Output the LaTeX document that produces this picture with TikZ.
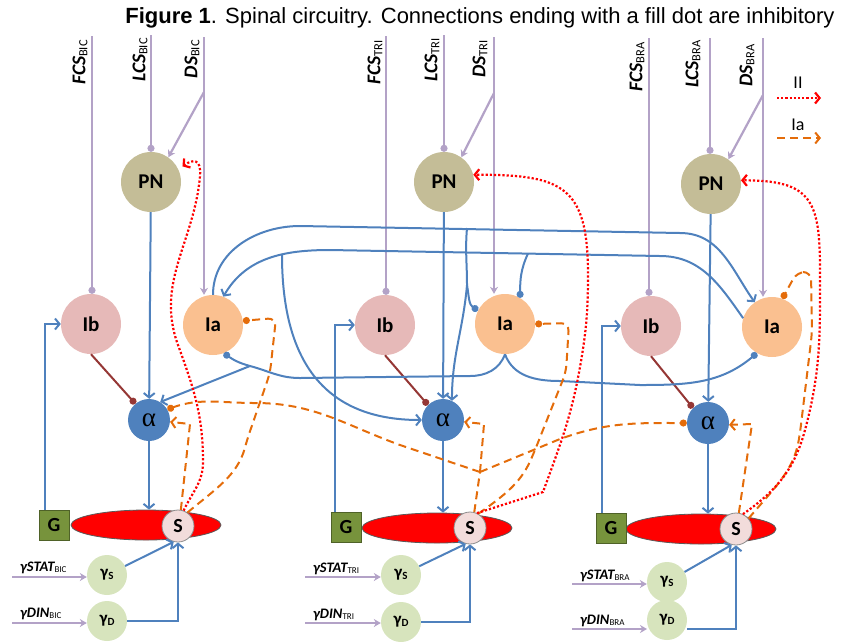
\documentclass[tikz,border=0pt]{standalone}
\usepackage{fontspec}
\setmainfont{Carlito}
\newfontfamily\titlefont{Liberation Sans}
\newfontfamily\greekfont{Liberation Serif}
\usetikzlibrary{arrows.meta,shapes.geometric}
\definecolor{purp}{RGB}{179,162,199}
\definecolor{pncol}{RGB}{196,189,151}
\definecolor{ibcol}{RGB}{230,185,184}
\definecolor{iacol}{RGB}{250,192,144}
\definecolor{mncol}{RGB}{79,129,189}
\definecolor{blu}{RGB}{79,129,189}
\definecolor{ibred}{RGB}{149,55,53}
\definecolor{orng}{RGB}{228,108,10}
\definecolor{gcol}{RGB}{119,147,60}
\definecolor{gdark}{RGB}{79,98,40}
\definecolor{scol}{RGB}{242,220,219}
\definecolor{gamcol}{RGB}{215,228,189}
\newcommand{\fsz}[1]{\fontsize{#1}{#1}\selectfont}
\newcommand{\toplab}[2]{{\bfseries\itshape #1}{\fsz{12.5}\raisebox{-2pt}{#2}}}
\newcommand{\gamlab}[2]{{\bfseries\itshape γ#1}{\fsz{9}\raisebox{-1.5pt}{#2}}}
\newcommand{\gamsub}[1]{γ{\fsz{11}\raisebox{-1.5pt}{#1}}}
\begin{document}
\begin{tikzpicture}[x=1pt,y=-1pt,
  neuron/.style={circle,minimum size=60pt,inner sep=0pt,font=\bfseries\fsz{21}},
  pnode/.style={neuron,fill=pncol},
  ibnode/.style={neuron,fill=ibcol},
  ianode/.style={neuron,fill=iacol},
  mnode/.style={circle,minimum size=42pt,inner sep=0pt,fill=mncol,font=\greekfont\fsz{27}},
  musc/.style={ellipse,minimum width=150pt,minimum height=30pt,fill=red,draw=black!65,line width=0.8pt},
  gbox/.style={rectangle,minimum size=30pt,inner sep=0pt,fill=gcol,draw=gdark,line width=1pt,font=\bfseries\fsz{20}},
  spin/.style={circle,minimum size=32pt,inner sep=0pt,fill=scol,draw=black!45,line width=0.8pt,font=\bfseries\fsz{20}},
  gam/.style={circle,minimum size=40pt,inner sep=0pt,fill=gamcol,font=\bfseries\fsz{17}},
  toptext/.style={rotate=90,anchor=east,inner sep=0pt,font=\fsz{19.5}},
  gamtext/.style={anchor=base west,inner sep=0pt,font=\fsz{14.5}},
  aff/.style={draw=purp,line width=2.2pt},
  affar/.style={aff,-{Stealth[length=7pt,width=8pt]}},
  affdot/.style={aff,-{Circle[length=7pt]}},
  bline/.style={draw=blu,line width=2pt},
  exc/.style={bline,-{Straight Barb[length=4.5pt,width=11pt]}},
  inh/.style={bline,-{Circle[length=7pt]}},
  ibinh/.style={draw=ibred,line width=2pt,-{Circle[length=7pt]}},
  iiline/.style={draw=red,dotted,line width=2.2pt,-{Straight Barb[length=4.5pt,width=11pt]}},
  ialine/.style={draw=orng,line width=2pt,dash pattern=on 8pt off 5pt},
  iaexc/.style={ialine,-{Straight Barb[length=4.5pt,width=11pt]}},
  iainh/.style={ialine,-{Circle[length=7pt]}}]
\useasboundingbox (0,0) rectangle (842,641);

\node[font=\titlefont\fsz{22}] (ttl) at (480,18) {\textbf{Figure 1}. Spinal circuitry. Connections ending with a fill dot are inhibitory};

% legend
\node[font=\fsz{18}] (iilab) at (798,83) {II};
\coordinate (lega) at (777,98); \coordinate (legb) at (821,98);
\draw[iiline] (lega) -- (legb);
\node[font=\fsz{18}] (ialab) at (798,125) {Ia};
\coordinate (legc) at (777,138); \coordinate (legd) at (821,138);
\draw[iaexc] (legc) -- (legd);

% BIC
\node[pnode] (pnb) at (151,182) {PN};
\node[ibnode] (ibb) at (91,324) {Ib};
\node[ianode] (iab) at (213,325) {Ia};
\node[mnode] (alb) at (149,420) {α};
\node[musc] (elb) at (146,525) {};
\node[gbox] (gb) at (54,525) {G};
\node[spin] (sb) at (178,526) {S};
\node[gam] (gsb) at (107,575) {\gamsub{S}};
\node[gam] (gdb) at (107,621) {\gamsub{D}};
\node[toptext] (fcsbl) at (80,40) {\toplab{FCS}{BIC}};
\node[toptext] (lcsbl) at (140,38) {\toplab{LCS}{BIC}};
\node[toptext] (dsbl) at (192,40) {\toplab{DS}{BIC}};
\node[gamtext] (gsbl) at (20,571) {\gamlab{STAT}{BIC}};
\node[gamtext] (gdbl) at (20,617) {\gamlab{DIN}{BIC}};

% TRI
\node[pnode] (pnt) at (444,182) {PN};
\node[ibnode] (ibt) at (385,325) {Ib};
\node[ianode] (iat) at (505,324) {Ia};
\node[mnode] (alt) at (443,420) {α};
\node[musc] (elt) at (437,528) {};
\node[gbox] (gt) at (346,527) {G};
\node[spin] (st) at (470,528) {S};
\node[gam] (gst) at (401,575) {\gamsub{S}};
\node[gam] (gdt) at (401,622) {\gamsub{D}};
\node[toptext] (fcstl) at (375,40) {\toplab{FCS}{TRI}};
\node[toptext] (lcstl) at (432,38) {\toplab{LCS}{TRI}};
\node[toptext] (dstl) at (480,40) {\toplab{DS}{TRI}};
\node[gamtext] (gstl) at (313,572) {\gamlab{STAT}{TRI}};
\node[gamtext] (gdtl) at (313,618) {\gamlab{DIN}{TRI}};

% BRA
\node[pnode] (pnr) at (711,184) {PN};
\node[ibnode] (ibr) at (651,326) {Ib};
\node[ianode] (iar) at (772,327) {Ia};
\node[mnode] (alr) at (708,423) {α};
\node[musc] (elr) at (701,529) {};
\node[gbox] (gr) at (611,528) {G};
\node[spin] (sr) at (736,529) {S};
\node[gam] (gsr) at (667,582) {\gamsub{S}};
\node[gam] (gdr) at (667,620) {\gamsub{D}};
\node[toptext] (fcsrl) at (637,42) {\toplab{FCS}{BRA}};
\node[toptext] (lcsrl) at (693,40) {\toplab{LCS}{BRA}};
\node[toptext] (dsrl) at (747,44) {\toplab{DS}{BRA}};
\node[gamtext] (gsrl) at (580,579) {\gamlab{STAT}{BRA}};
\node[gamtext] (gdrl) at (580,624) {\gamlab{DIN}{BRA}};

% descending inputs
\coordinate (fcsb) at (92,36); \coordinate (lcsb) at (151,35);
\coordinate (dsb) at (204,37); \coordinate (dsbk) at (204,92);
\draw[affdot] (fcsb) -- (fcsb |- ibb.north);
\draw[affdot] (lcsb) -- (pnb.north);
\draw[affar] (dsb) -- (dsb |- iab.north);
\draw[affar] (dsbk) -- (pnb.55);
\coordinate (fcst) at (386,36); \coordinate (lcst) at (444,35);
\coordinate (dst) at (494,37); \coordinate (dstk) at (494,93);
\draw[affdot] (fcst) -- (fcst |- ibt.north);
\draw[affdot] (lcst) -- (pnt.north);
\draw[affar] (dst) -- (dst |- iat.north);
\draw[affar] (dstk) -- (pnt.55);
\coordinate (fcsr) at (649,38); \coordinate (lcsr) at (710,38);
\coordinate (dsr) at (763,38); \coordinate (dsrk) at (763,95);
\draw[affdot] (fcsr) -- (fcsr |- ibr.north);
\draw[affdot] (lcsr) -- (lcsr |- pnr.north);
\draw[affar] (dsr) -- (dsr |- iar.north);
\draw[affar] (dsrk) -- (pnr.55);

% gamma drives
\coordinate (gsinb) at (12,577); \coordinate (gdinb) at (12,623);
\draw[affar] (gsinb) -- (gsinb -| gsb.west);
\draw[affar] (gdinb) -- (gdinb -| gdb.west);
\coordinate (gsint) at (305,577); \coordinate (gdint) at (305,623);
\draw[affar] (gsint) -- (gsint -| gst.west);
\draw[affar] (gdint) -- (gdint -| gdt.west);
\coordinate (gsinr) at (572,584); \coordinate (gdinr) at (572,629);
\draw[affar] (gsinr) -- (gsinr -| gsr.west);
\draw[affar] (gdinr) -- (647,629);

\draw[exc] (gsb) -- (sb.255);
\draw[exc] (gdb.east) -| (sb.south);
\draw[exc] (gst) -- (st.255);
\draw[exc] (gdt.east) -| (st.south);
\draw[exc] (gsr) -- (sr.255);
\draw[exc] ([yshift=-9pt]gdr.east) -| (sr.south);

% G, PN, Ib, alpha
\draw[exc] ([xshift=-9pt]gb.north) |- (ibb.west);
\draw[exc] ([xshift=-11pt]gt.north) |- (ibt.west);
\draw[exc] ([xshift=-9pt]gr.north) |- (ibr.west);
\draw[exc] (pnb) -- (alb);
\draw[exc] (pnt) -- (alt);
\draw[exc] (pnr) -- (alr);
\draw[exc] (alb) -- (alb |- elb.north);
\draw[exc] (alt) -- (alt |- elt.north);
\draw[exc] (alr) -- (alr |- elr.north);
\draw[ibinh] (ibb.south) -- (alb.130);
\draw[ibinh] (ibt.south) -- (alt.135);
\draw[ibinh] (ibr.south) -- (alr.135);

% Ia interneurons
\coordinate (kb1) at (467,228);
\coordinate (kb2) at (467,285);
\coordinate (kb3) at (528,253.5);
\coordinate (kb4) at (282,255);
\coordinate (kb5) at (250,366);
\draw[exc] (iab.north) to[out=90,in=180] (300,226) -- (680,233) to[out=0,in=125] (iar.125);
\draw[bline] (kb1) to[out=-95,in=90] (kb2);
\draw[inh] (kb2) to[out=-80,in=150] (iat.153);
\draw[exc] (kb2) to[out=-95,in=90] (alt.65);
\draw[exc] (iar.163) to[out=125,in=0] (660,256) -- (330,250) to[out=180,in=60] (iab.70);
\draw[inh] (kb3) to[out=-115,in=90] (iat.60);
\draw[exc] (kb4) to[out=-90,in=180,looseness=1.2] (alt.west);
\draw[inh] (iat.south) to[out=-110,in=0] (470,376) -- (300,378) to[out=180,in=-15] (kb5) to[out=165,in=-35] (iab.-69);
\draw[exc] (kb5) -- (alb.58);
\draw[inh] (iat.south) to[out=-70,in=180] (560,381) -- (640,385) to[out=0,in=-140] (iar.-120);

% Ia afferents
\coordinate (jn) at (480,472);
\draw[iaexc] (sb.80) -- (190,424) -- (alb.-5);
\draw[iainh,rounded corners=8pt] (sb.55) to[out=40,in=-105] (247,440) -- (270,373) -- (276,318) -- (iab.8);
\draw[iainh] (jn) -- (400,445) to[out=160,in=0] (255,403) to[out=180,in=20] (alb.30);
\draw[ialine] (st.75) -- (jn);
\draw[iaexc] (jn) -- (484,424) -- (alt.-5);
\draw[iainh] (jn) -- (560,439) to[out=20,in=180] (alr.west);
\draw[iainh,rounded corners=8pt] (st.60) to[out=35,in=-115] (533,455) -- (566,372) -- (569,323) -- (iat.east);
\draw[iaexc] (sr.80) -- (752,424) -- (alr.-5);
\draw[iainh,rounded corners=8pt] (sr.40) to[out=50,in=-100] (800,433) -- (812,333) -- (811,272) -- (797,272) -- (iar.70);

% II afferents
\draw[iiline,shorten >=5pt] (sb.70) to[out=65,in=-90] (203,462) to[out=90,in=-70] (178,345) to[out=110,in=-95] (200,176) to[out=85,in=35,looseness=2] (pnb.25);
\draw[iiline] (st.65) -- (543,492) to[out=70,in=-100] (580,367) to[out=80,in=-90] (588,275) to[out=90,in=0,looseness=1.5] (pnt.14);
\draw[iiline] (sr.65) to[out=35,in=-105] (805,430) to[out=75,in=-90] (820,270) to[out=90,in=0,looseness=1.5] (pnr.7);
\end{tikzpicture}
\end{document}
